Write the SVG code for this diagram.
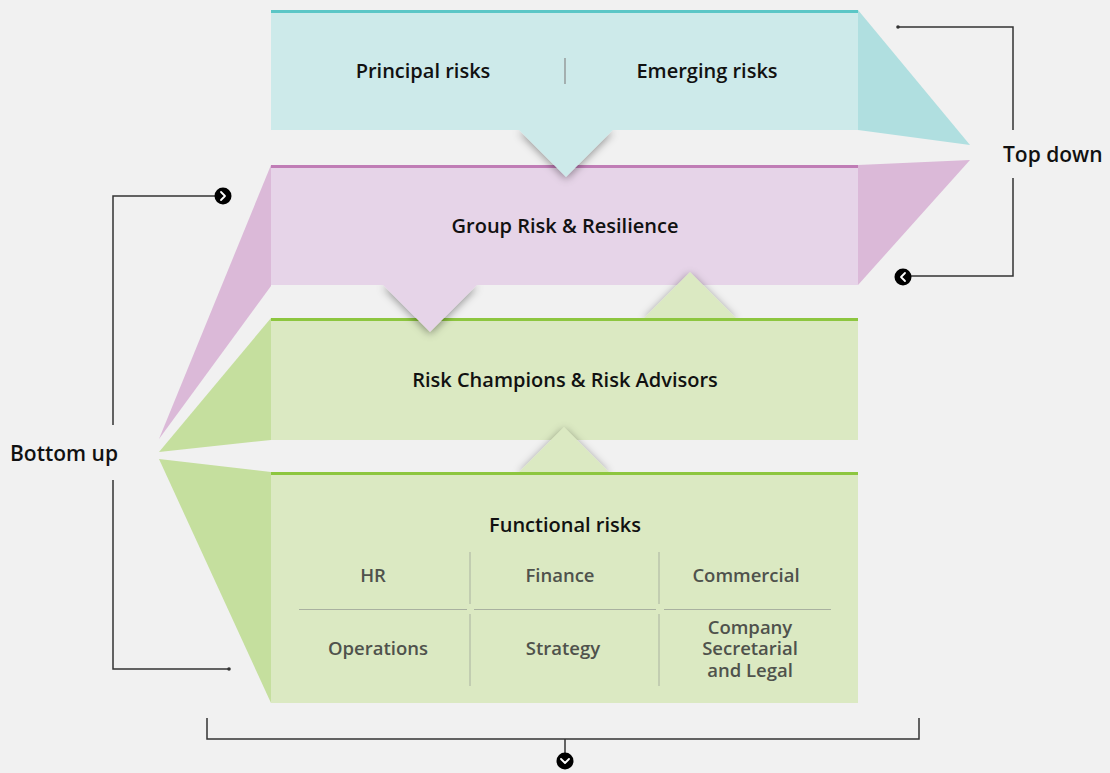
<svg xmlns="http://www.w3.org/2000/svg" width="1110" height="773" viewBox="0 0 1110 773">
  <style>
    .head { font-family: "Open Sans", "Noto Sans", sans-serif; font-weight: 600; font-size: 20px; fill: #111; text-anchor: middle; }
    .cell { font-family: "Open Sans", "Noto Sans", sans-serif; font-weight: 600; font-size: 18.5px; fill: #4f524c; text-anchor: middle; }
    .side { font-family: "Open Sans", "Noto Sans", sans-serif; font-weight: 600; font-size: 21px; fill: #111; }
    .wire { fill: none; stroke: #333; stroke-width: 1.5; }
    .grid { stroke: #a9b1a0; stroke-width: 1; }
    .chev { fill: none; stroke: #fff; stroke-width: 1.8; stroke-linecap: round; stroke-linejoin: round; }
  </style>
  <defs>
    <filter id="soft" x="-30%" y="-30%" width="160%" height="160%">
      <feDropShadow dx="0" dy="2" stdDeviation="4" flood-color="#000" flood-opacity="0.4"/>
    </filter>
    <clipPath id="clipTeal"><rect x="400" y="130" width="330" height="80"/></clipPath>
    <clipPath id="clipPurple"><rect x="320" y="285" width="220" height="70"/></clipPath>
    <clipPath id="clipGreen1"><rect x="580" y="240" width="220" height="78"/></clipPath>
    <clipPath id="clipGreen2"><rect x="460" y="400" width="210" height="72"/></clipPath>
  </defs>

  <rect width="1110" height="773" fill="#f1f1f1"/>

  <!-- Functional risks layer -->
  <g id="functional-risks">
    <polygon points="271,472 159,459 271,703" fill="#c5df9e"/>
    <rect x="271" y="472" width="587" height="231" fill="#dbe9c2"/>
    <rect x="271" y="472" width="587" height="3" fill="#8dc63f"/>
    <text class="head" x="565" y="532">Functional risks</text>
    <line class="grid" x1="470" y1="552" x2="470" y2="604"/>
    <line class="grid" x1="470" y1="614" x2="470" y2="686"/>
    <line class="grid" x1="659" y1="552" x2="659" y2="604"/>
    <line class="grid" x1="659" y1="614" x2="659" y2="686"/>
    <line class="grid" x1="299" y1="609.5" x2="467" y2="609.5"/>
    <line class="grid" x1="474" y1="609.5" x2="656" y2="609.5"/>
    <line class="grid" x1="664" y1="609.5" x2="831" y2="609.5"/>
    <text class="cell" x="373" y="582">HR</text>
    <text class="cell" x="560" y="582">Finance</text>
    <text class="cell" x="746" y="582">Commercial</text>
    <text class="cell" x="378" y="655">Operations</text>
    <text class="cell" x="563" y="655">Strategy</text>
    <text class="cell" x="750" y="634"><tspan x="750" y="634">Company</tspan><tspan x="750" y="655">Secretarial</tspan><tspan x="750" y="677">and Legal</tspan></text>
  </g>

  <!-- Risk Champions layer -->
  <g id="risk-champions">
    <polygon points="271,318 159,452 271,440" fill="#c5df9e"/>
    <rect x="271" y="318" width="587" height="122" fill="#dbe9c2"/>
    <rect x="271" y="318" width="587" height="3" fill="#8dc63f"/>
    <text class="head" x="565" y="387">Risk Champions &amp; Risk Advisors</text>
  </g>

  <!-- Group Risk & Resilience layer -->
  <g id="group-risk">
    <polygon points="271,165 159,439 271,286" fill="#dbb9d8"/>
    <polygon points="858,165 970,160 858,285" fill="#dbb9d8"/>
    <rect x="271" y="165" width="587" height="120" fill="#e6d4e8"/>
    <rect x="271" y="165" width="587" height="3" fill="#c07db6"/>
    <text class="head" x="565" y="233">Group Risk &amp; Resilience</text>
  </g>

  <!-- Principal / emerging risks layer -->
  <g id="principal-risks">
    <polygon points="858,10 970,145 858,130" fill="#b0dfe0"/>
    <rect x="271" y="10" width="587" height="120" fill="#cdeaea"/>
    <rect x="271" y="10" width="587" height="3" fill="#5bc6c6"/>
    <line x1="565" y1="58" x2="565" y2="84" stroke="#888" stroke-width="1.2"/>
    <text class="head" x="423" y="78">Principal risks</text>
    <text class="head" x="707" y="78">Emerging risks</text>
  </g>

  <!-- pointers between layers -->
  <g id="pointers">
    <g clip-path="url(#clipTeal)"><polygon points="519,130 566,177 613,130" fill="#cdeaea" filter="url(#soft)"/></g>
    <g clip-path="url(#clipPurple)"><polygon points="383,285 430,332 477,285" fill="#e6d4e8" filter="url(#soft)"/></g>
    <g clip-path="url(#clipGreen1)"><polygon points="644,318 690,272 736,318" fill="#dbe9c2" filter="url(#soft)"/></g>
    <g clip-path="url(#clipGreen2)"><polygon points="519,472 564,427 609,472" fill="#dbe9c2" filter="url(#soft)"/></g>
  </g>

  <!-- connectors -->
  <g id="connectors">
    <polyline class="wire" points="898,27 1013,27 1013,130"/>
    <polyline class="wire" points="1013,178 1013,276 903,276"/>
    <circle cx="898" cy="27" r="1.8" fill="#333"/>
    <circle cx="903" cy="277" r="8.5" fill="#000"/>
    <polyline class="chev" points="905,273 901,277 905,281"/>

    <polyline class="wire" points="222,196 113,196 113,425"/>
    <polyline class="wire" points="113,480 113,669 229,669"/>
    <circle cx="229" cy="669" r="1.8" fill="#333"/>
    <circle cx="223" cy="196" r="8.5" fill="#000"/>
    <polyline class="chev" points="221,192 225,196 221,200"/>

    <polyline class="wire" points="207,718 207,739 919,739 919,718"/>
    <line class="wire" x1="565" y1="739" x2="565" y2="755"/>
    <circle cx="565" cy="761" r="8.5" fill="#000"/>
    <polyline class="chev" points="561,759 565,763 569,759"/>
  </g>

  <g id="labels">
    <text class="side" x="1003" y="162">Top down</text>
    <text class="side" x="10" y="461">Bottom up</text>
  </g>
</svg>
